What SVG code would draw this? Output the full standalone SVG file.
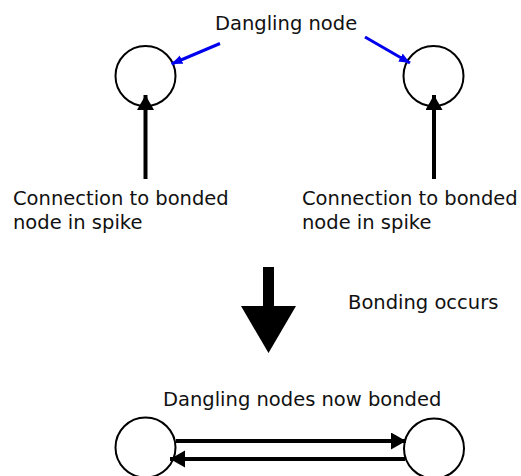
<svg xmlns="http://www.w3.org/2000/svg" width="521" height="476" viewBox="0 0 521 476">
<style>
  .node { fill: #ffffff; stroke: #000000; stroke-width: 2; }
  .lbl { font-family: "DejaVu Sans", Verdana, sans-serif; font-size: 19.5px; fill: #111111; }
  .conn { stroke: #000000; stroke-width: 4; fill: none; }
  .blue { stroke: #0000ee; stroke-width: 3; fill: none; }
</style>
<defs>
  <marker id="ah" markerUnits="userSpaceOnUse" markerWidth="16" markerHeight="18" refX="15" refY="8.5" orient="auto">
    <path d="M0,0 L15,8.5 L0,17 z" fill="#000000"/>
  </marker>
  <marker id="ahb" markerUnits="userSpaceOnUse" markerWidth="12" markerHeight="10" refX="11" refY="4.5" orient="auto">
    <path d="M0,0 L11,4.5 L0,9 z" fill="#0000ee"/>
  </marker>
</defs>
<rect width="521" height="476" fill="#ffffff"/>

<g id="node-left-top"><circle class="node" cx="145.5" cy="76" r="30"/></g>
<g id="node-right-top"><circle class="node" cx="433.5" cy="76" r="30"/></g>
<g id="node-left-bottom"><circle class="node" cx="145.5" cy="447.5" r="30"/></g>
<g id="node-right-bottom"><circle class="node" cx="434" cy="448.5" r="30"/></g>

<g id="labels">
  <text class="lbl" x="215" y="30">Dangling node</text>
  <text class="lbl" x="13" y="205">Connection to bonded</text>
  <text class="lbl" x="13" y="229">node in spike</text>
  <text class="lbl" x="302" y="205">Connection to bonded</text>
  <text class="lbl" x="302" y="229">node in spike</text>
  <text class="lbl" x="348" y="309">Bonding occurs</text>
  <text class="lbl" x="163" y="406">Dangling nodes now bonded</text>
</g>

<g id="connectors">
  <line class="blue" x1="220" y1="43.5" x2="171.5" y2="64" marker-end="url(#ahb)"/>
  <line class="blue" x1="365" y1="37" x2="410" y2="63" marker-end="url(#ahb)"/>
  <line class="conn" x1="145.5" y1="179" x2="145.5" y2="95" marker-end="url(#ah)"/>
  <line class="conn" x1="434" y1="179" x2="434" y2="95" marker-end="url(#ah)"/>
  <polygon points="263,267 274,267 274,306 296,306 268.5,353 241,306 263,306" fill="#000000"/>
  <line class="conn" x1="176" y1="441" x2="406" y2="441" marker-end="url(#ah)"/>
  <line class="conn" x1="405" y1="459" x2="170" y2="459" marker-end="url(#ah)"/>
</g>
</svg>
